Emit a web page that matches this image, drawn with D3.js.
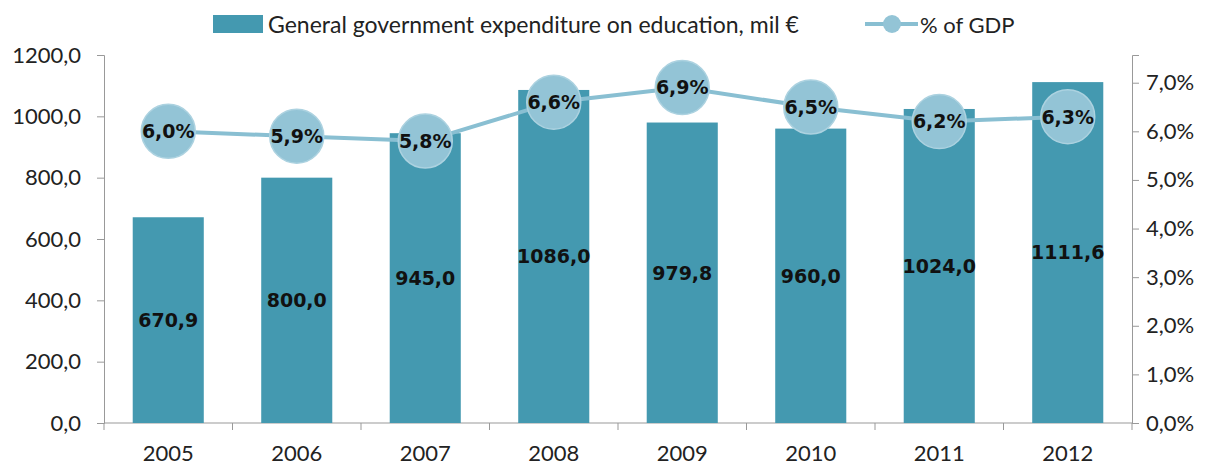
<!DOCTYPE html>
<html>
<head>
<meta charset="utf-8">
<script src="https://cdn.jsdelivr.net/npm/d3@7"></script>
<style>
  body { margin: 0; background: #fff; }
  svg { display: block; }
  .tick text { font-family: "Lato", "Open Sans", sans-serif; font-size: 22px; fill: #222; }
  .lbl { font-family: "DejaVu Sans", sans-serif; font-weight: bold; font-size: 19px; fill: #111; }
  .txt { font-family: "Lato", "Open Sans", sans-serif; font-size: 22px; fill: #222; }
</style>
</head>
<body>
<div id="chart"></div>
<script>
var years = ['2005', '2006', '2007', '2008', '2009', '2010', '2011', '2012'];
var spending = [670.9, 800.0, 945.0, 1086.0, 979.8, 960.0, 1024.0, 1111.6];
var gdpShare = [6.0, 5.9, 5.8, 6.6, 6.9, 6.5, 6.2, 6.3];
var leftTicks = [0, 200, 400, 600, 800, 1000, 1200];
var rightTicks = [0, 1, 2, 3, 4, 5, 6, 7];

var width = 1209,
  height = 466,
  plotLeft = 104,
  plotRight = 1132,
  plotTop = 55,
  plotBottom = 423;

var barColor = '#4499b0',
  lineColor = '#89bfd2',
  dotColor = '#93c4d6';

function comma(v, digits) {
  return v.toFixed(digits).replace('.', ',');
}

var svg = d3.select('#chart')
  .append('svg')
  .attr('width', width)
  .attr('height', height);

var x = d3.scaleBand()
  .domain(years)
  .range([plotLeft, plotRight])
  .paddingInner(0.447)
  .paddingOuter(0.2235);

var yLeft = d3.scaleLinear()
  .domain([0, 1200])
  .range([plotBottom, plotTop]);

var yRight = d3.scaleLinear()
  .domain([0, 7.57])
  .range([plotBottom, plotTop]);

// axes
var leftAxis = d3.axisLeft(yLeft)
  .tickValues(leftTicks)
  .tickSize(7)
  .tickPadding(16)
  .tickFormat(function(d) { return comma(d, 1); });

var rightAxis = d3.axisRight(yRight)
  .tickValues(rightTicks)
  .tickSize(7)
  .tickPadding(7)
  .tickFormat(function(d) { return comma(d, 1) + '%'; });

var gl = svg.append('g')
  .attr('transform', 'translate(' + plotLeft + ',0)')
  .call(leftAxis);

var gr = svg.append('g')
  .attr('transform', 'translate(' + plotRight + ',0)')
  .call(rightAxis);

[gl, gr].forEach(function(g) {
  g.select('.domain').attr('stroke', '#999');
  g.selectAll('.tick line').attr('stroke', '#999');
});

// x axis, ticks sit between categories
var xTickPos = years.map(function(d, i) { return plotLeft + i * (plotRight - plotLeft) / years.length; });
xTickPos.push(plotRight);

var gx = svg.append('g');
gx.append('line')
  .attr('x1', plotLeft).attr('x2', plotRight)
  .attr('y1', plotBottom).attr('y2', plotBottom)
  .attr('stroke', '#999');
gx.selectAll('.xt')
  .data(xTickPos)
  .enter()
  .append('line')
  .attr('x1', function(d) { return d; })
  .attr('x2', function(d) { return d; })
  .attr('y1', plotBottom)
  .attr('y2', plotBottom + 7)
  .attr('stroke', '#999');
gx.selectAll('text')
  .data(years)
  .enter()
  .append('text')
  .attr('class', 'txt')
  .attr('x', function(d) { return x(d) + x.bandwidth() / 2; })
  .attr('y', plotBottom + 38)
  .attr('text-anchor', 'middle')
  .text(function(d) { return d; });

// bars
svg.selectAll('.bar')
  .data(spending)
  .enter()
  .append('rect')
  .attr('class', 'bar')
  .attr('x', function(d, i) { return x(years[i]); })
  .attr('y', function(d) { return yLeft(d); })
  .attr('width', x.bandwidth())
  .attr('height', function(d) { return plotBottom - yLeft(d); })
  .attr('fill', barColor);

svg.selectAll('.barlbl')
  .data(spending)
  .enter()
  .append('text')
  .attr('class', 'lbl')
  .attr('x', function(d, i) { return x(years[i]) + x.bandwidth() / 2; })
  .attr('y', function(d) { return (yLeft(d) + plotBottom) / 2; })
  .attr('dy', '0.36em')
  .attr('text-anchor', 'middle')
  .text(function(d) { return comma(d, 1); });

// line + dots
var cx = function(d, i) { return x(years[i]) + x.bandwidth() / 2; };

var line = d3.line()
  .x(cx)
  .y(function(d) { return yRight(d); });

svg.append('path')
  .datum(gdpShare)
  .attr('d', line)
  .attr('fill', 'none')
  .attr('stroke', lineColor)
  .attr('stroke-width', 4);

svg.selectAll('.dot')
  .data(gdpShare)
  .enter()
  .append('circle')
  .attr('cx', cx)
  .attr('cy', function(d) { return yRight(d); })
  .attr('r', 27)
  .attr('fill', dotColor)
  .attr('stroke', '#acd2e0')
  .attr('stroke-width', 1.5);

svg.selectAll('.dotlbl')
  .data(gdpShare)
  .enter()
  .append('text')
  .attr('class', 'lbl')
  .attr('x', cx)
  .attr('y', function(d) { return yRight(d); })
  .attr('dy', '0.36em')
  .attr('text-anchor', 'middle')
  .text(function(d) { return comma(d, 1) + '%'; });

// legend
var legend = svg.append('g');
legend.append('rect')
  .attr('x', 213).attr('y', 15)
  .attr('width', 50).attr('height', 18)
  .attr('fill', barColor);
legend.append('text')
  .attr('class', 'txt')
  .attr('x', 268).attr('y', 33)
  .style('font-size', '23px')
  .text('General government expenditure on education, mil €');
legend.append('line')
  .attr('x1', 865).attr('x2', 918)
  .attr('y1', 24).attr('y2', 24)
  .attr('stroke', lineColor)
  .attr('stroke-width', 4);
legend.append('circle')
  .attr('cx', 892).attr('cy', 24)
  .attr('r', 9)
  .attr('fill', dotColor);
legend.append('text')
  .attr('class', 'txt')
  .attr('x', 920).attr('y', 33)
  .text('% of GDP');
</script>
</body>
</html>
